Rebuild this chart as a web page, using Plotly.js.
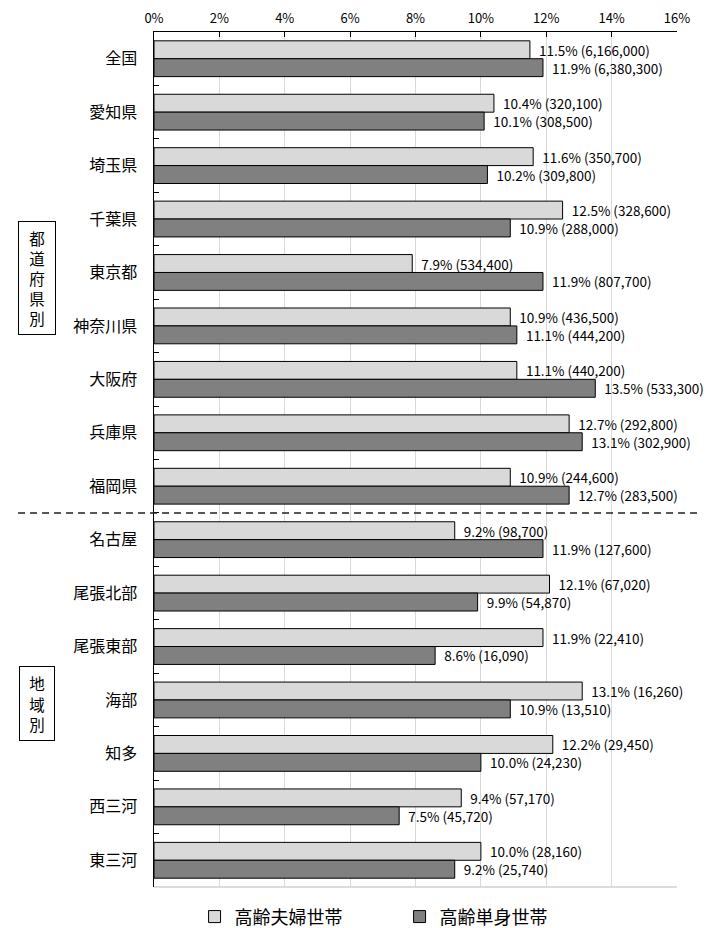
<!DOCTYPE html>
<html>
<head>
<meta charset="utf-8">
<script src="https://cdn.plot.ly/plotly-3.0.1.min.js"></script>
<style>
  html, body { margin: 0; padding: 0; background: #fff; }
  #chart { width: 726px; height: 928px; }
</style>
</head>
<body>
<div id="chart"></div>
<script>
// Regions: prefectures first, then Aichi sub-regions
const categories = ['全国', '愛知県', '埼玉県', '千葉県', '東京都', '神奈川県', '大阪府', '兵庫県', '福岡県',
  '名古屋', '尾張北部', '尾張東部', '海部', '知多', '西三河', '東三河'];

// 高齢夫婦世帯: share of households (%) and household counts
const coupleShare = [11.5, 10.4, 11.6, 12.5, 7.9, 10.9, 11.1, 12.7, 10.9, 9.2, 12.1, 11.9, 13.1, 12.2, 9.4, 10.0];
const coupleCount = [6166000, 320100, 350700, 328600, 534400, 436500, 440200, 292800, 244600,
  98700, 67020, 22410, 16260, 29450, 57170, 28160];

// 高齢単身世帯: share of households (%) and household counts
const singleShare = [11.9, 10.1, 10.2, 10.9, 11.9, 11.1, 13.5, 13.1, 12.7, 11.9, 9.9, 8.6, 10.9, 10.0, 7.5, 9.2];
const singleCount = [6380300, 308500, 309800, 288000, 807700, 444200, 533300, 302900, 283500,
  127600, 54870, 16090, 13510, 24230, 45720, 25740];

const seriesNames = ['高齢夫婦世帯', '高齢単身世帯'];
const xTicks = [0, 2, 4, 6, 8, 10, 12, 14, 16];
const groupLabels = ['都<br>道<br>府<br>県<br>別', '地<br>域<br>別'];

const FONT = '"Noto Sans CJK JP", "Noto Sans", sans-serif';

function labelText(shares, counts) {
  return shares.map((v, i) =>
    '\u00a0\u00a0' + v.toFixed(1) + '% (' + counts[i].toLocaleString('en-US') + ')');
}

const traces = [
  {
    type: 'bar', orientation: 'h', name: seriesNames[0],
    y: categories, x: coupleShare,
    text: labelText(coupleShare, coupleCount),
    textposition: 'outside', constraintext: 'none', cliponaxis: false,
    textfont: { family: FONT, size: 13.5, color: '#000' },
    marker: { color: '#d9d9d9', line: { color: '#000', width: 1 } },
    hoverinfo: 'none'
  },
  {
    type: 'bar', orientation: 'h', name: seriesNames[1],
    y: categories, x: singleShare,
    text: labelText(singleShare, singleCount),
    textposition: 'outside', constraintext: 'none', cliponaxis: false,
    textfont: { family: FONT, size: 13.5, color: '#000' },
    marker: { color: '#808080', line: { color: '#000', width: 1 } },
    hoverinfo: 'none'
  }
];

const layout = {
  width: 726, height: 928,
  margin: { l: 154, r: 49, t: 32, b: 41 },
  paper_bgcolor: '#fff', plot_bgcolor: '#fff',
  font: { family: FONT, color: '#000' },
  barmode: 'group', bargap: 0.33, bargroupgap: 0,
  showlegend: true,
  legend: {
    orientation: 'h', xref: 'container', yref: 'container',
    x: 0.268, xanchor: 'left', y: 0.012, yanchor: 'middle',
    entrywidth: 160, entrywidthmode: 'pixels', itemwidth: 30,
    font: { family: FONT, size: 18 }, traceorder: 'normal'
  },
  xaxis: {
    side: 'top', range: [0, 16], tickvals: xTicks, ticktext: xTicks.map(v => v + '%'),
    ticks: 'inside', ticklen: 5, tickcolor: '#000', tickwidth: 1,
    showline: true, linecolor: '#000', linewidth: 1,
    showgrid: true, gridcolor: '#d9d9d9', gridwidth: 1, zeroline: false,
    tickfont: { family: FONT, size: 13 }, ticklabelstandoff: 3, fixedrange: true
  },
  yaxis: {
    type: 'category', autorange: 'reversed',
    ticks: 'inside', tickson: 'boundaries', ticklen: 5, tickcolor: '#000',
    showline: true, linecolor: '#000', linewidth: 1.5,
    showgrid: false, zeroline: false,
    tickfont: { family: FONT, size: 16 }, ticklabelstandoff: 12, fixedrange: true
  },
  shapes: [
    // light border along the bottom of the plot area
    { type: 'line', xref: 'paper', yref: 'paper', x0: 0, x1: 1, y0: 0, y1: 0,
      line: { color: '#d0d0d0', width: 1.5 } },
    // divider between prefectures and Aichi regions
    { type: 'line', xref: 'paper', yref: 'y', x0: -0.26, x1: 1.044, y0: 8.5, y1: 8.5,
      line: { color: '#222', width: 1.5, dash: '7px,5px' } }
  ],
  annotations: [
    { xref: 'paper', yref: 'paper', x: -0.2237, y: 0.7123, xanchor: 'center', yanchor: 'middle',
      text: groupLabels[0], showarrow: false, font: { family: FONT, size: 15.5 },
      bordercolor: '#000', borderwidth: 1, borderpad: 0, width: 36, height: 112, bgcolor: '#fff' },
    { xref: 'paper', yref: 'paper', x: -0.2237, y: 0.2146, xanchor: 'center', yanchor: 'middle',
      text: groupLabels[1], showarrow: false, font: { family: FONT, size: 15.5 },
      bordercolor: '#000', borderwidth: 1, borderpad: 0, width: 34, height: 73, bgcolor: '#fff' }
  ]
};

Plotly.newPlot('chart', traces, layout, { staticPlot: true, displayModeBar: false });
</script>
</body>
</html>
